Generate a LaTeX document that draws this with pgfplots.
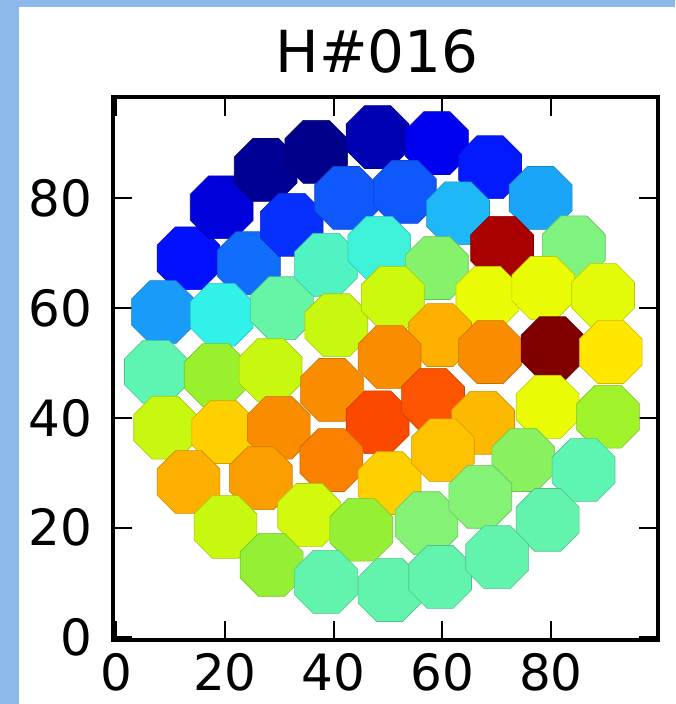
\documentclass[border=0pt]{standalone}
\usepackage{fontspec}
\setmainfont{DejaVu Sans}
\usepackage{pgfplots}
\pgfplotsset{compat=1.18}

% octagonal marker with flat top, bottom and sides
\pgfdeclareplotmark{octagon}{%
  \pgfpathmoveto{\pgfqpointpolar{22.5}{\pgfplotmarksize}}%
  \pgfpathlineto{\pgfqpointpolar{67.5}{\pgfplotmarksize}}%
  \pgfpathlineto{\pgfqpointpolar{112.5}{\pgfplotmarksize}}%
  \pgfpathlineto{\pgfqpointpolar{157.5}{\pgfplotmarksize}}%
  \pgfpathlineto{\pgfqpointpolar{202.5}{\pgfplotmarksize}}%
  \pgfpathlineto{\pgfqpointpolar{247.5}{\pgfplotmarksize}}%
  \pgfpathlineto{\pgfqpointpolar{292.5}{\pgfplotmarksize}}%
  \pgfpathlineto{\pgfqpointpolar{337.5}{\pgfplotmarksize}}%
  \pgfpathclose
  \pgfusepathqfillstroke
}

\definecolor{framebg}{RGB}{141,185,234}

% jet-like map with saturated greens
\pgfplotsset{
  colormap={vivjet}{
    rgb255(0)=(0,0,128)
    rgb255(1)=(0,0,255)
    rgb255(2)=(20,130,250)
    rgb255(3)=(40,240,245)
    rgb255(3.7)=(96,244,176)
    rgb255(4)=(128,242,128)
    rgb255(4.3)=(150,240,48)
    rgb255(4.6)=(200,248,16)
    rgb255(5)=(255,255,0)
    rgb255(5.4)=(255,208,0)
    rgb255(6)=(250,140,0)
    rgb255(7)=(255,0,0)
    rgb255(8)=(128,0,0)
  }
}

% pixel positions (x, y) and signal level (c, 0..1) of the 61 cells
\pgfplotstableread{
x     y     c
13.3  69.1  0.14
19.4  78.4  0.09
27.5  85.2  0.02
36.8  88.5  0.01
48.1  91.2  0.05
59.0  90.1  0.11
68.8  85.7  0.15
78.1  80.1  0.29
24.4  68.2  0.23
32.3  75.2  0.17
42.3  80.1  0.21
53.1  81.2  0.21
62.9  77.3  0.31
71.0  71.0  0.96
84.2  71.1  0.50
8.6   59.3  0.28
19.4  58.8  0.39
30.5  60.0  0.47
38.6  67.9  0.44
48.4  71.0  0.41
59.0  67.3  0.51
68.3  61.9  0.605
78.6  63.7  0.605
89.6  62.4  0.60
7.3   48.4  0.46
18.3  47.8  0.54
28.4  48.7  0.575
40.5  56.9  0.575
50.9  61.9  0.58
59.6  55.1  0.71
68.8  52.0  0.75
80.3  52.7  1.00
91.0  52.0  0.65
9.0   38.2  0.575
19.7  37.4  0.675
29.9  38.2  0.75
39.7  45.1  0.75
50.3  51.1  0.75
48.1  39.2  0.81
58.3  43.3  0.80
67.5  39.1  0.70
79.4  42.0  0.605
90.5  40.2  0.545
13.3  28.3  0.71
26.6  29.0  0.73
39.6  32.3  0.76
50.3  28.1  0.675
60.1  34.1  0.69
74.9  32.3  0.515
86.0  30.5  0.46
20.1  20.1  0.575
35.5  22.3  0.585
45.1  19.6  0.535
57.1  20.8  0.505
67.0  25.6  0.505
79.4  21.4  0.465
28.6  13.2  0.535
38.6  10.1  0.465
50.3  8.6   0.465
59.6  11.0  0.465
70.1  14.6  0.465
}\cells

\begin{document}
\begin{tikzpicture}[x=1pt,y=1pt]
\fill[white] (0,0) rectangle (337.5,352);
\fill[framebg] (0,0) rectangle (9.5,352);
\fill[framebg] (0,348.5) rectangle (337.5,352);
\begin{axis}[
  at={(56.5pt,32pt)}, anchor=south west,
  scale only axis, width=272.5pt, height=271.5pt,
  xmin=-0.6, xmax=99.7, ymin=-0.5, ymax=98.5,
  xtick={0,20,40,60,80}, ytick={0,20,40,60,80},
  tick align=inside, tick pos=both,
  major tick length=9.5pt,
  axis line style={line width=1.6pt},
  every tick/.style={black, line width=1pt},
  ticklabel style={font=\fontsize{25}{30}\selectfont},
  /pgf/number format/assume math mode=true,
  xticklabel style={anchor=north, inner sep=0pt, yshift=-6.5pt},
  yticklabel style={anchor=east, inner sep=0pt, xshift=-10pt},
  colormap name=vivjet, point meta min=0, point meta max=1,
]
\addplot[scatter, only marks, mark=octagon, mark size=17pt,
  scatter src=explicit, mark options={line width=0.3pt}]
  table[x=x, y=y, meta=c] {\cells};
\end{axis}
\node[anchor=base, font=\fontsize{29}{35}\selectfont] at (188.5,315.5) {H\#016};
\pgfresetboundingbox
\useasboundingbox (0,0) rectangle (337.5,352);
\end{tikzpicture}
\end{document}
